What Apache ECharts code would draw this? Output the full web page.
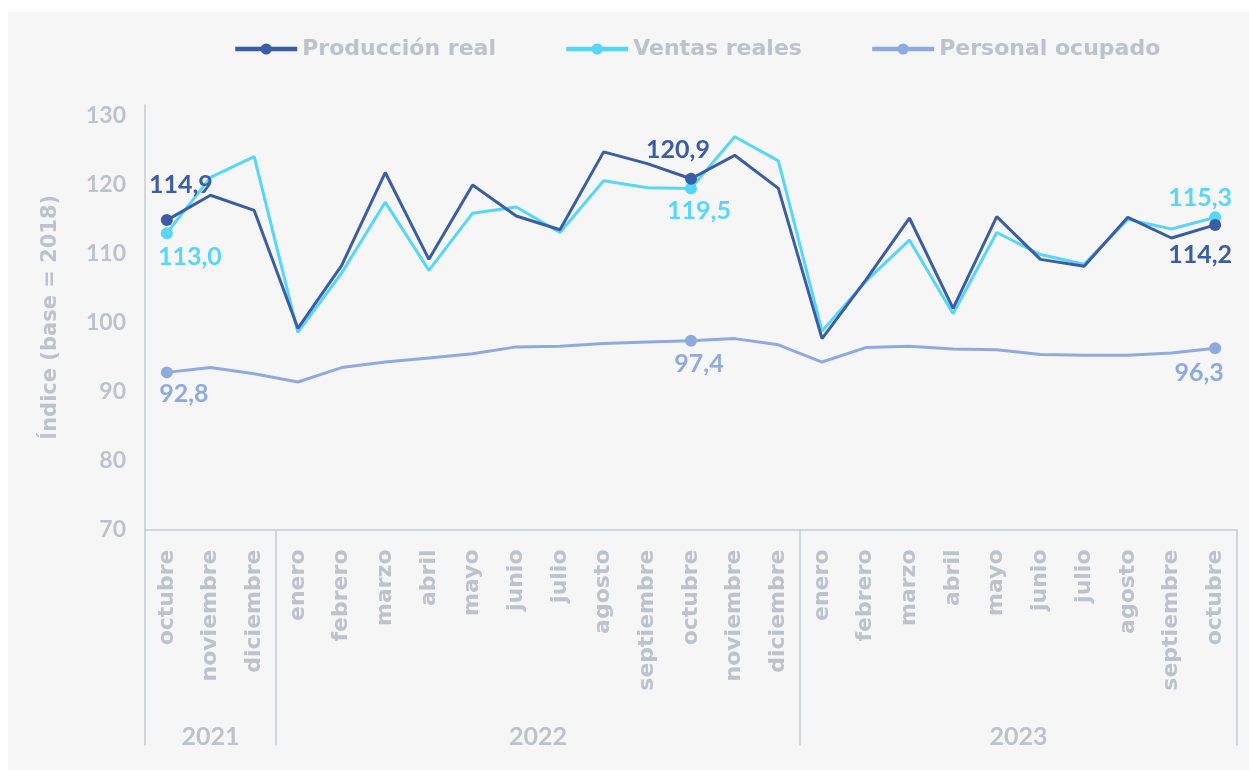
<!DOCTYPE html>
<html>
<head>
<meta charset="utf-8">
<script src="https://cdn.jsdelivr.net/npm/echarts@6/dist/echarts.min.js"></script>
<style>
  html, body { margin: 0; padding: 0; background: #fff; }
  #chart { position: absolute; left: 8px; top: 12px; width: 1241px; height: 758px; }
</style>
</head>
<body>
<div id="chart"></div>
<script>
// categorías (oct 2021 - oct 2023)
const months = [
  'octubre', 'noviembre', 'diciembre',
  'enero', 'febrero', 'marzo', 'abril', 'mayo', 'junio', 'julio', 'agosto', 'septiembre', 'octubre', 'noviembre', 'diciembre',
  'enero', 'febrero', 'marzo', 'abril', 'mayo', 'junio', 'julio', 'agosto', 'septiembre', 'octubre'
]
const years = ['2021', '2022', '2023']
const monthsPerYear = [3, 12, 10]

// series
const produccion = [114.9, 118.5, 116.3, 99.2, 108.3, 121.8, 109.2, 120.0, 115.5, 113.5, 124.8, 123.1, 120.9,
  124.3, 119.5, 97.7, 106.2, 115.2, 102.1, 115.4, 109.2, 108.2, 115.3, 112.3, 114.2]
const ventas = [113.0, 121.1, 124.1, 98.6, 107.2, 117.5, 107.6, 115.9, 116.8, 113.1, 120.6, 119.6, 119.5,
  127.0, 123.5, 98.8, 106.0, 112.0, 101.3, 113.1, 109.9, 108.5, 115.0, 113.6, 115.3]
const personal = [92.8, 93.5, 92.6, 91.4, 93.5, 94.3, 94.9, 95.5, 96.5, 96.6, 97.0, 97.2, 97.4,
  97.7, 96.8, 94.3, 96.4, 96.6, 96.2, 96.1, 95.4, 95.3, 95.3, 95.6, 96.3]
const labeledIdx = [0, 12, 24]

const gray = '#bcc3cc'
const lineGray = '#c5ccd5'

// eje de años: medios meses, etiquetas en el centro de cada año, marcas en los límites
const yearSlots = []
const yearLabelAt = {}
const yearTickAt = { 0: true }
let pos = 0
monthsPerYear.forEach((n, k) => {
  yearLabelAt[pos + n] = years[k]
  pos += n * 2
  yearTickAt[pos] = true
})
for (let i = 0; i <= pos; i++) yearSlots.push(yearLabelAt[i] || '')

const fmt = v => v.toFixed(1).replace('.', ',')

// solo los puntos etiquetados llevan símbolo
const buildData = (values, offsets) => values.map((v, i) => {
  const k = labeledIdx.indexOf(i)
  if (k < 0) return { value: v, symbol: 'none' }
  return {
    value: v,
    label: { show: true, position: 'inside', offset: offsets[k], formatter: () => fmt(v) }
  }
})

const chart = echarts.init(document.getElementById('chart'))

const labelStyle = { fontFamily: 'Lato', fontWeight: 'bold', fontSize: 25 }

const option = {
  backgroundColor: '#f6f6f6',
  animation: false,
  legend: {
    left: 220,
    top: 21,
    itemWidth: 62,
    itemHeight: 14,
    itemGap: 68,
    lineStyle: { width: 4.5 },
    textStyle: { color: gray, fontFamily: 'DejaVu Sans', fontWeight: 'bold', fontSize: 22 }
  },
  grid: { left: 137, right: 12, top: 93, bottom: 240.5 },
  xAxis: [
    {
      type: 'category',
      data: months,
      axisLine: { lineStyle: { color: lineGray, width: 1.5 } },
      axisTick: { show: false },
      axisLabel: {
        interval: 0,
        rotate: 90,
        margin: 20,
        color: gray,
        fontFamily: 'DejaVu Sans',
        fontWeight: 'bold',
        fontSize: 22
      }
    },
    {
      type: 'category',
      data: yearSlots,
      position: 'bottom',
      boundaryGap: false,
      axisLine: { show: false },
      axisTick: {
        show: true,
        length: 216,
        interval: (i) => !!yearTickAt[i],
        lineStyle: { color: lineGray, width: 1.5 }
      },
      axisLabel: {
        interval: (i) => yearSlots[i] !== '',
        margin: 195,
        color: gray,
        fontFamily: 'Lato',
        fontWeight: 'bold',
        fontSize: 25
      }
    }
  ],
  yAxis: {
    type: 'value',
    min: 70,
    max: 131.6,
    interval: 10,
    name: 'Índice (base = 2018)',
    nameLocation: 'middle',
    nameGap: 84,
    nameTextStyle: { color: gray, fontFamily: 'DejaVu Sans', fontWeight: 'bold', fontSize: 21 },
    axisLine: { show: true, lineStyle: { color: lineGray, width: 1.5 } },
    axisTick: { show: false },
    splitLine: { show: false },
    axisLabel: {
      showMaxLabel: false,
      margin: 19,
      color: gray,
      fontFamily: 'Lato',
      fontWeight: 'bold',
      fontSize: 23
    }
  },
  series: [
    {
      name: 'Producción real',
      type: 'line',
      symbol: 'circle',
      symbolSize: 12,
      color: '#3a5da6',
      lineStyle: { width: 3 },
      label: Object.assign({ color: '#3a5da6' }, labelStyle),
      data: buildData(produccion, [[14, -35], [-13, -29], [-15, 30]]),
      z: 4
    },
    {
      name: 'Ventas reales',
      type: 'line',
      symbol: 'circle',
      symbolSize: 12,
      color: '#56d7f8',
      lineStyle: { width: 3 },
      label: Object.assign({ color: '#56d7f8' }, labelStyle),
      data: buildData(ventas, [[23, 24], [8, 23], [-15, -19]]),
      z: 3
    },
    {
      name: 'Personal ocupado',
      type: 'line',
      symbol: 'circle',
      symbolSize: 12,
      color: '#8eaadf',
      lineStyle: { width: 3 },
      label: Object.assign({ color: '#8eaadf' }, labelStyle),
      data: buildData(personal, [[17, 22], [8, 23], [-16, 25]]),
      z: 2
    }
  ]
}

chart.setOption(option)
</script>
</body>
</html>
